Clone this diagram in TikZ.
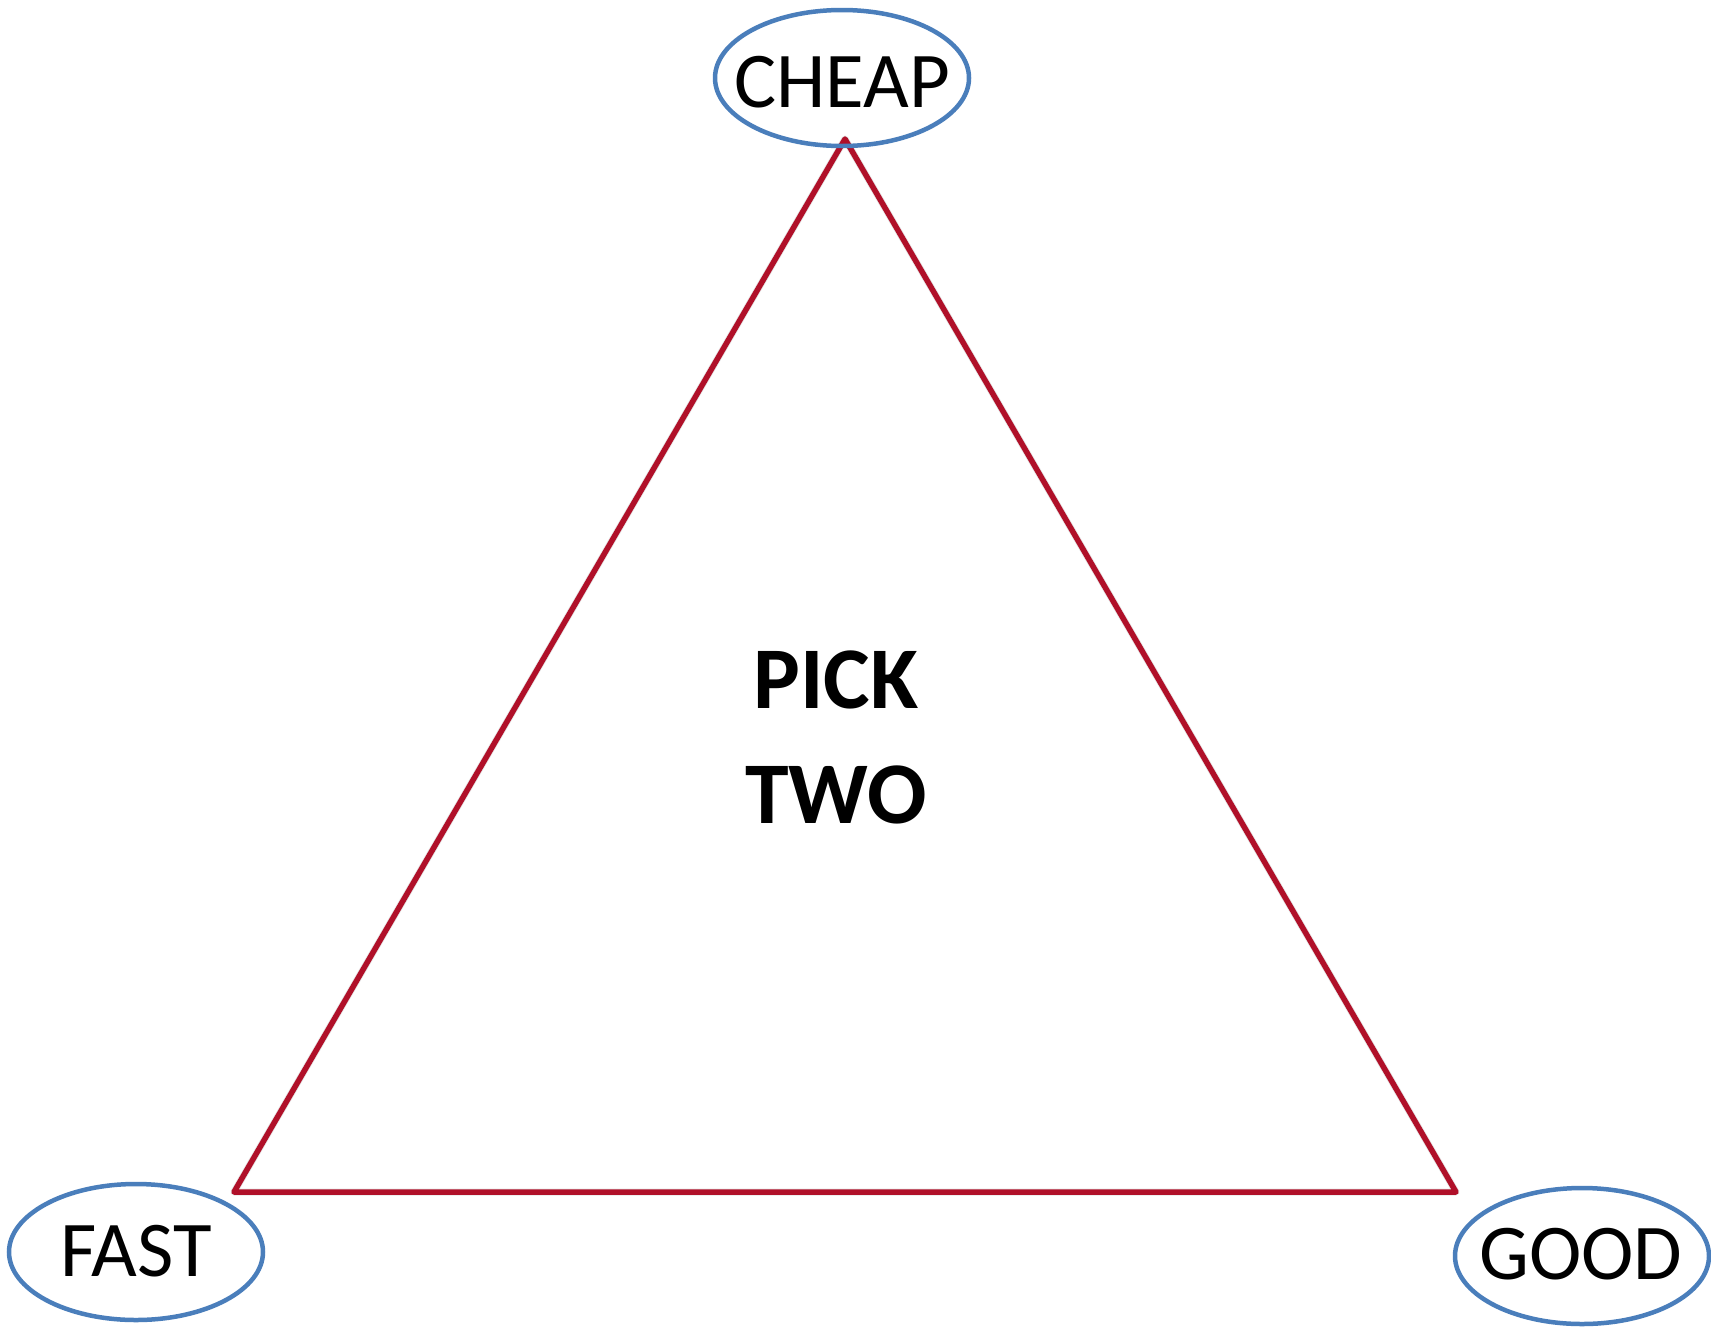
\documentclass[tikz,border=0pt]{standalone}
\usepackage{fontspec}
\setmainfont{Carlito}
\usetikzlibrary{shapes.geometric}
\definecolor{ovalblue}{HTML}{4A7EBB}
\definecolor{trired}{HTML}{B01029}
\tikzset{
  oval/.style={ellipse, draw=ovalblue, line width=4.5pt, minimum width=254pt, minimum height=136pt, inner sep=0pt},
  lbl/.style={inner sep=0pt, font=\fontsize{79}{90}\selectfont},
  triline/.style={draw=trired, line width=5.5pt, line join=round, line cap=round},
  centertext/.style={align=center, font=\fontsize{88}{115}\selectfont\bfseries}
}
\begin{document}
\begin{tikzpicture}[x=1pt,y=-1pt]
  \useasboundingbox[fill=white] (0,0) rectangle (1711,1328);
  \coordinate (top) at (845,139);
  \coordinate (bl) at (234,1192);
  \coordinate (br) at (1456,1192);
  % soft shadow
  \draw[black!10, line width=7pt, line join=round, shift={(2pt,-3pt)}] (top) -- (br) -- (bl) -- cycle;
  \draw[triline] (top) -- (br) -- (bl) -- cycle;
  \node[oval] (cheap) at (842,78) {};
  \node[lbl] (cheaptxt) at (842,82) {CHEAP};
  \node[oval] (fast) at (136,1252) {};
  \node[lbl] (fasttxt) at (136,1251) {FAST};
  \node[oval] (good) at (1582,1256) {};
  \node[lbl] (goodtxt) at (1581,1254) {GOOD};
  \node[centertext] (pick) at (836,737) {PICK\\TWO};
\end{tikzpicture}
\end{document}
